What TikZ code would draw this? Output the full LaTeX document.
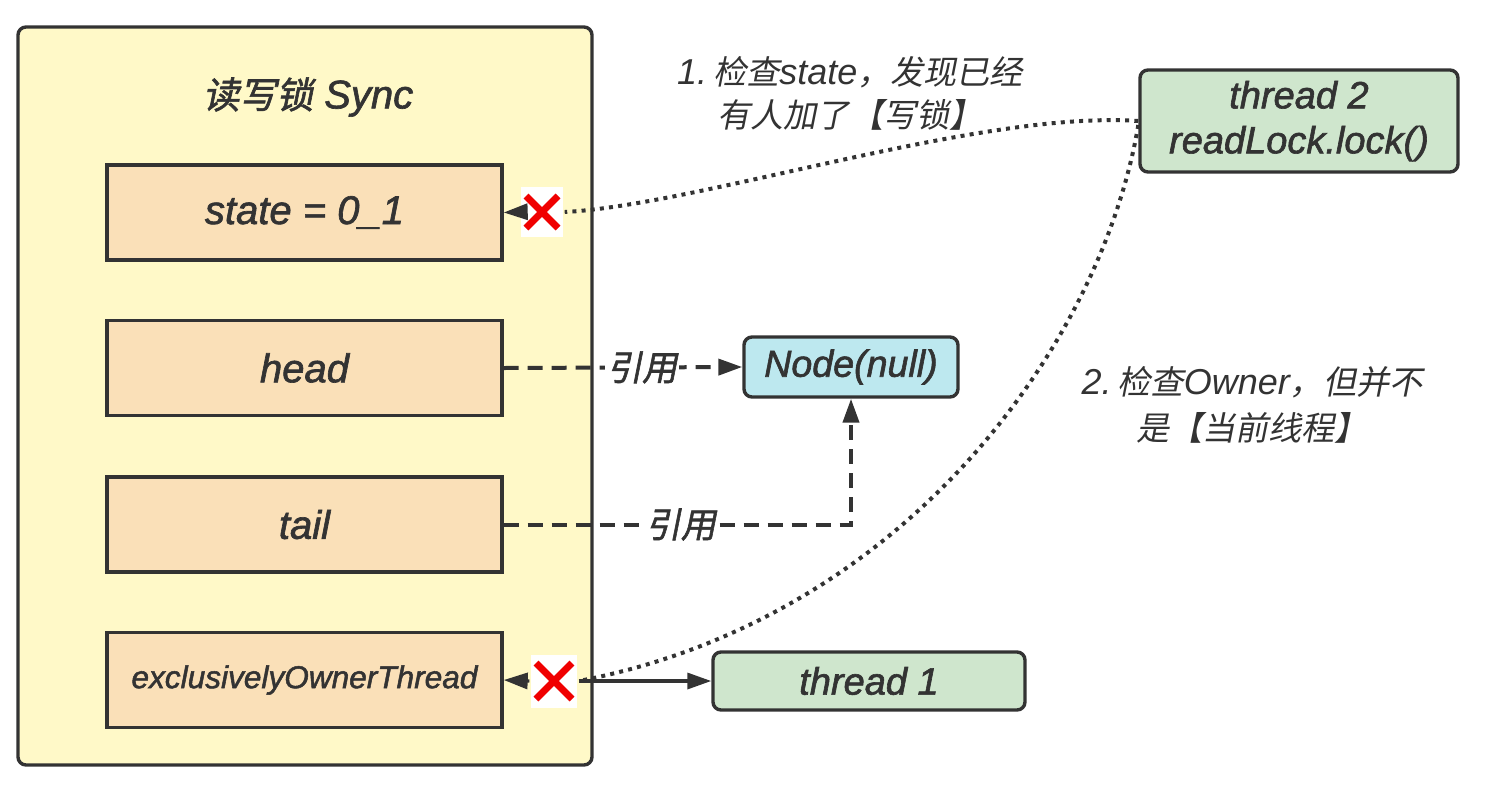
\documentclass[tikz,border=0pt]{standalone}
\usepackage{fontspec}
\setmainfont{Liberation Sans}
\newfontfamily\heavy{Liberation Sans}[FakeBold=1.6]
\newfontfamily\cjk{Noto Sans CJK SC}[FakeSlant=0.2,Scale=0.92]
\newfontfamily\cjkheavy{Noto Sans CJK SC}[FakeSlant=0.2,Scale=0.92,FakeBold=1.6]
\usetikzlibrary{arrows.meta}

\definecolor{ink}{HTML}{333333}
\definecolor{lemon}{HTML}{FFF9C8}
\definecolor{peach}{HTML}{FAE0B8}
\definecolor{sky}{HTML}{BDE8EF}
\definecolor{leaf}{HTML}{CFE6CD}
\definecolor{alarm}{HTML}{F00000}

\begin{document}
\begin{tikzpicture}[x=0.5pt, y=-0.5pt, line width=1.7pt, ink,
		every node/.style={text=ink, font=\itshape},
		field/.style={draw=ink, fill=peach, minimum width=197.5pt, minimum height=47.5pt, font=\heavy\itshape\fontsize{20}{24}\selectfont},
		thread/.style={draw=ink, fill=leaf, rounded corners=4pt, font=\heavy\itshape\fontsize{19}{22.5}\selectfont},
		ref/.style={draw=ink, line width=2pt, dash pattern=on 7.5pt off 4.5pt},
		probe/.style={draw=ink, line width=2pt, dash pattern=on 2pt off 2.6pt},
		tip/.style={-{Triangle[length=12pt,width=8pt]}},
		deny/.style={fill=white, inner sep=0pt},
		crossline/.style={draw=alarm, line width=3.5pt}]
			\useasboundingbox (0,0) rectangle (1510,788);

			% Sync container
			\node[draw=ink, fill=lemon, rounded corners=4pt, minimum width=287pt, minimum height=369pt] (sync) at (305,396) {};
			\node[font=\heavy\itshape\fontsize{20}{24}\selectfont] (title) at (308,97) {{\cjkheavy 读写锁} Sync};

			% Fields
			\node[field] (state) at (304.5,212.5) {state = 0\_1};
			\node[field] (head) at (304.5,368) {head};
			\node[field] (tail) at (304.5,524.5) {tail};
			\node[field, font=\heavy\itshape\fontsize{15.8}{19}\selectfont] (owner) at (304.5,680) {exclusivelyOwnerThread};

			% Other objects
			\node[draw=ink, fill=sky, rounded corners=4pt, minimum width=107pt, minimum height=30pt, font=\heavy\itshape\fontsize{18.8}{22}\selectfont] (null) at (851,367) {Node(null)};
			\node[thread, minimum width=159pt, minimum height=51pt, align=center] (t2) at (1299,121) {thread 2\\readLock.lock()};
			\node[thread, minimum width=156pt, minimum height=29pt] (t1) at (869,681) {thread 1};

			% Notes
			\node[align=center, font=\itshape\fontsize{18}{21.5}\selectfont] (note1) at (850,93) {1.\,{\cjk 检查}state{\cjk ，发现已经}\\{\cjk 有人加了【写锁】}};
			\node[align=center, font=\itshape\fontsize{18}{23}\selectfont] (note2) at (1252,405) {2.\,{\cjk 检查}Owner{\cjk ，但并不}\\{\cjk 是【当前线程】}};

			% References
			\draw[ref, tip] (head.east) -- node[pos=0.58, fill=white, inner sep=1pt, font=\fontsize{19}{22}\selectfont] (headref) {\cjkheavy 引用} (null.west);
			\draw[ref, tip] (tail.east) -- node[pos=0.51, fill=white, inner sep=1pt, font=\fontsize{19}{22}\selectfont] (tailref) {\cjkheavy 引用} (tail.east -| null.south) -- (null.south);

			% Failed checks
			\node[deny, minimum width=21pt, minimum height=25pt] (deny1) at (542,212) {};
			\node[deny, minimum width=23pt, minimum height=26.5pt] (deny2) at (554,681) {};
			\draw[crossline] ([shift={(-8pt,8pt)}]deny1.center) -- ([shift={(8pt,-8pt)}]deny1.center);
			\draw[crossline] ([shift={(-8pt,-8pt)}]deny1.center) -- ([shift={(8pt,8pt)}]deny1.center);
			\draw[crossline] ([shift={(-9pt,9pt)}]deny2.center) -- ([shift={(9pt,-9pt)}]deny2.center);
			\draw[crossline] ([shift={(-9pt,-9pt)}]deny2.center) -- ([shift={(9pt,9pt)}]deny2.center);

			\draw[tip] (deny1.west) -- (state.east);
			\draw[tip] (deny2.west) -- (owner.east);
			\draw[tip] (deny2.east) -- (t1.west);

			% Dotted probes from thread 2
			\draw[probe] (t2.west) .. controls (980,110) and (700,205) .. (deny1.east);
			\draw[probe] ([yshift=-2pt]t2.west) .. controls (1100,350) and (900,620) .. (deny2.east);
		\end{tikzpicture}
\end{document}
